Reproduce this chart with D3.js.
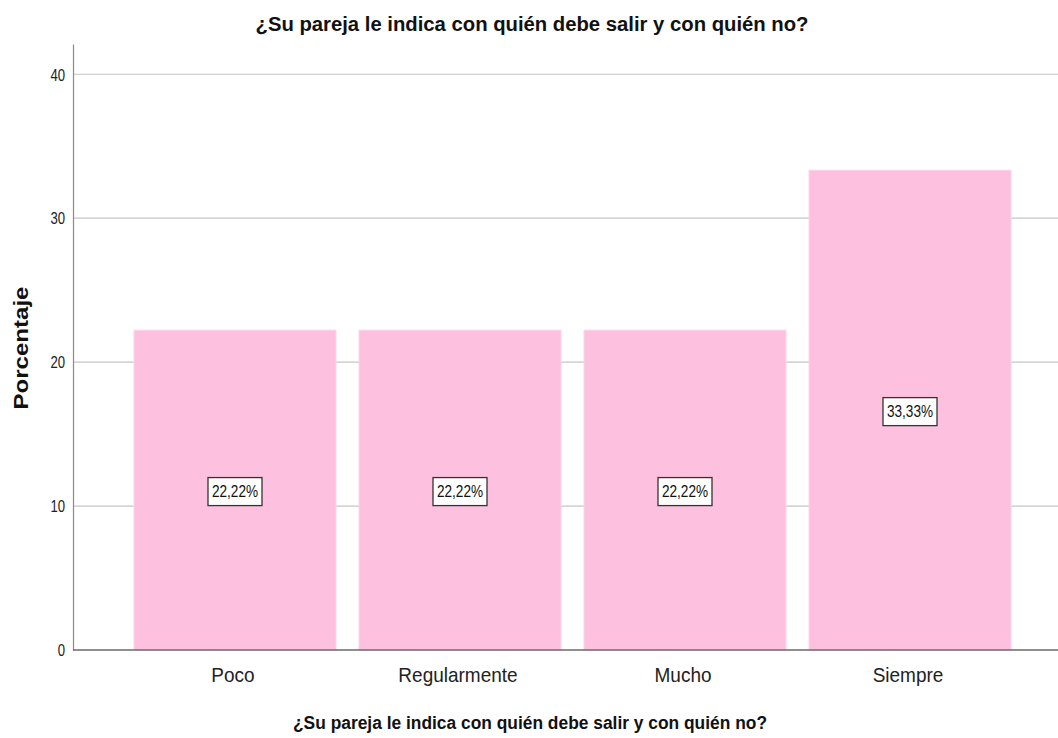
<!DOCTYPE html>
<html><head><meta charset="utf-8">
<script src="https://cdn.jsdelivr.net/npm/d3@7/dist/d3.min.js"></script>
<style>body{margin:0;background:#fff}svg{display:block}</style>
</head><body>
<svg id="c" width="1058" height="738"></svg>
<script>
const categories = ["Poco", "Regularmente", "Mucho", "Siempre"];
const values = [22.22, 22.22, 22.22, 33.33];
const valueLabels = ["22,22%", "22,22%", "22,22%", "33,33%"];
const yTicks = [0, 10, 20, 30, 40];
const title = "¿Su pareja le indica con quién debe salir y con quién no?";
const yTitle = "Porcentaje";

(function () {
const svg = d3.select("#c");
const mLeft = 73, mRight = 1058, mBottom = 650, mTop = 44;
const sans = "'Liberation Sans',Arial,sans-serif";

const y = d3.scaleLinear().domain([0, 42.1]).range([mBottom, mTop]);
const x = d3.scaleBand().domain(categories).range([122.5, 1022.5])
  .paddingInner(23/225).paddingOuter(11.5/225);

// gridlines
svg.append("g").selectAll("line").data(yTicks.filter(d => d > 0)).join("line")
  .attr("x1", mLeft).attr("x2", mRight)
  .attr("y1", d => y(d)).attr("y2", d => y(d))
  .attr("stroke", "#c4c4c4").attr("stroke-width", 1.2);

// bars
svg.append("g").selectAll("rect").data(values).join("rect")
  .attr("x", (d, i) => x(categories[i]))
  .attr("y", d => y(d))
  .attr("width", x.bandwidth())
  .attr("height", d => y(0) - y(d))
  .attr("fill", "#fdc0df")
  .attr("stroke", "#fdd3ea").attr("stroke-width", 1);

// y axis
const yAxis = d3.axisLeft(y).tickValues(yTicks).tickSize(0).tickPadding(0);
const gy = svg.append("g").attr("transform", `translate(${mLeft},0)`).call(yAxis);
gy.select(".domain").attr("stroke", "#8a8a8a").attr("stroke-width", 1.2);
gy.selectAll("text").attr("font-family", sans).attr("font-size", 16).attr("fill", "#222")
  .attr("x", 0).attr("dy", "0.36em")
  .attr("transform", "translate(-8,0) scale(0.82,1)");

// x axis
const xAxis = d3.axisBottom(x).tickSize(0).tickPadding(0);
const gx = svg.append("g").attr("transform", `translate(0,${mBottom})`).call(xAxis);
gx.select(".domain").remove();
gx.selectAll("text").attr("font-family", sans).attr("font-size", 20).attr("fill", "#222")
  .attr("y", 0).attr("dy", 0)
  .attr("transform", "translate(-2,32) scale(0.95,1)");
svg.append("line").attr("x1", mLeft).attr("x2", mRight).attr("y1", y(0)).attr("y2", y(0))
  .attr("stroke", "#6a6a6a").attr("stroke-width", 1.5);

// value labels
const lab = svg.append("g").selectAll("g").data(values).join("g")
  .attr("transform", (d, i) => `translate(${x(categories[i]) + x.bandwidth()/2},${y(d/2) + 1.5})`);
lab.append("rect").attr("x", -27).attr("y", -14).attr("width", 54).attr("height", 28)
  .attr("fill", "#fff").attr("stroke", "#333").attr("stroke-width", 1.3);
lab.append("text").text((d, i) => valueLabels[i])
  .attr("text-anchor", "middle").attr("dy", "0.36em")
  .attr("transform", "scale(0.85,1)")
  .attr("font-family", sans).attr("font-size", 16).attr("fill", "#111");

// titles
svg.append("text").text(title).attr("x", 532).attr("y", 31)
  .attr("text-anchor", "middle").attr("font-family", sans).attr("font-weight", "bold")
  .attr("font-size", 20).attr("textLength", 553).attr("lengthAdjust", "spacingAndGlyphs")
  .attr("fill", "#111");
svg.append("text").text(title).attr("x", 530).attr("y", 729)
  .attr("text-anchor", "middle").attr("font-family", sans).attr("font-weight", "bold")
  .attr("font-size", 18).attr("textLength", 474).attr("lengthAdjust", "spacingAndGlyphs")
  .attr("fill", "#111");
svg.append("text").text(yTitle)
  .attr("transform", `translate(28,348) rotate(-90)`)
  .attr("text-anchor", "middle").attr("font-family", sans).attr("font-weight", "bold")
  .attr("font-size", 20).attr("textLength", 123).attr("lengthAdjust", "spacingAndGlyphs")
  .attr("fill", "#111");
})();
</script>
</body></html>
